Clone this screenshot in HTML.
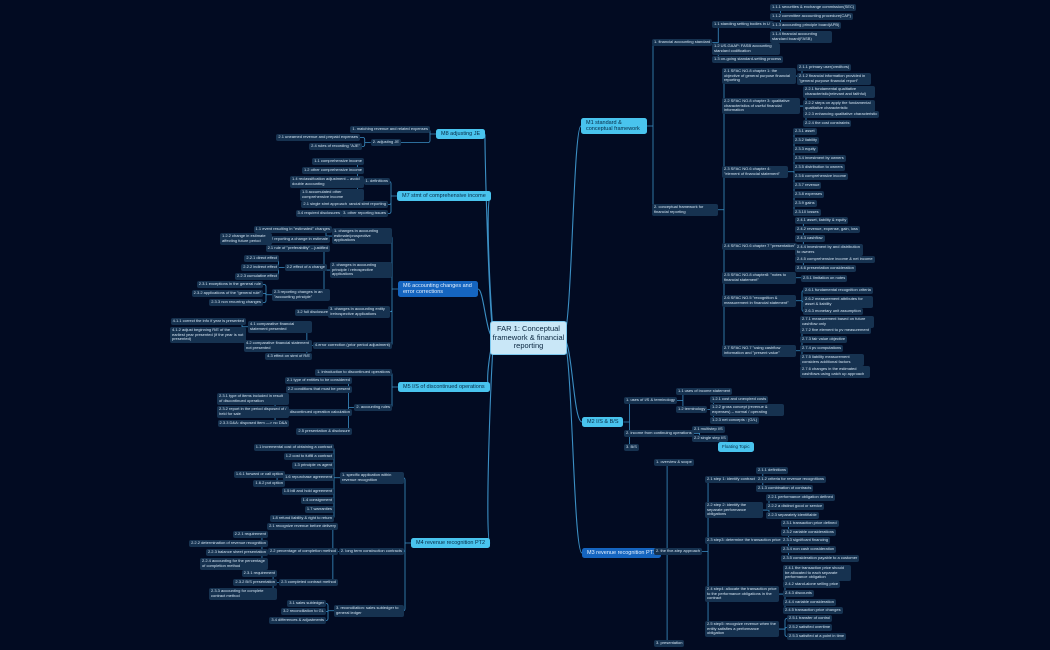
<!DOCTYPE html>
<html><head><meta charset="utf-8"><style>
html,body{margin:0;padding:0;background:#020b22;width:1050px;height:650px;overflow:hidden}
body{position:relative;font-family:"Liberation Sans",sans-serif}
svg{position:absolute;left:0;top:0}
.n{position:absolute;background:#163250;color:#d4e4f2;font-size:4px;line-height:4.6px;padding:1.2px 2px;border-radius:2px;white-space:nowrap}
.w{white-space:normal}
.m{font-size:5.5px;line-height:6px;padding:2px 5px;border-radius:2.5px;background:#49c4ee;color:#062a44}
.b{background:#1565c0;color:#e6f2ff}
.c{position:absolute;left:490px;top:321px;width:77px;height:34px;background:#c9e7f7;border:1px solid #7cc8ee;border-radius:3px;color:#0b2740;font-size:7.5px;line-height:8.5px;text-align:center;display:flex;align-items:center;justify-content:center;box-sizing:border-box}
</style></head><body>
<svg id="s" width="1050" height="650"></svg>
<div class="c" id="C">FAR 1: Conceptual framework &amp; financial reporting</div>

<!-- M1 -->
<div class="n m w" id="M1" p="C" style="left:581px;top:118px;width:56px">M1 standard &amp; conceptual framework</div>
<div class="n" id="R1" p="M1" style="left:652px;top:39px">1. financial accounting standard</div>
<div class="n" id="R11" p="R1" style="left:712px;top:21px">1.1 standing setting bodies in US</div>
<div class="n" p="R11" style="left:770px;top:4px">1.1.1 securities &amp; exchange commission(SEC)</div>
<div class="n" p="R11" style="left:770px;top:13px">1.1.2 committee accounting procedure(CAP)</div>
<div class="n" p="R11" style="left:770px;top:22px">1.1.3 accounting principle board(APB)</div>
<div class="n w" p="R11" style="left:770px;top:31px;width:58px">1.1.4 financial accounting standard board(FASB)</div>
<div class="n w" p="R1" style="left:712px;top:43px;width:64px">1.2 US-GAAP: FASB accounting standard codification</div>
<div class="n" p="R1" style="left:712px;top:56px">1.3 on-going standard-setting process</div>
<div class="n w" id="R2" p="M1" style="left:652px;top:204px;width:62px">2. conceptual framework for financial reporting</div>
<div class="n w" id="R21" p="R2" style="left:722px;top:68px;width:70px">2.1 SFAC NO.8 chapter 1: the objective of general purpose financial reporting</div>
<div class="n" p="R21" style="left:797px;top:64px">2.1.1 primary user(creditors)</div>
<div class="n w" p="R21" style="left:797px;top:73px;width:70px">2.1.2 financial information provided in "general purpose financial report"</div>
<div class="n w" id="R22" p="R2" style="left:722px;top:98px;width:74px">2.2 SFAC NO.8 chapter 3: qualitative characteristics of useful financial information</div>
<div class="n w" p="R22" style="left:803px;top:86px;width:68px">2.2.1 fundamental qualitative characteristic(relevant and faithful)</div>
<div class="n w" p="R22" style="left:803px;top:100px;width:68px">2.2.2 steps on apply the fundamental qualitative characteristic</div>
<div class="n" p="R22" style="left:803px;top:111px">2.2.3 enhancing qualitative characteristic</div>
<div class="n" p="R22" style="left:803px;top:120px">2.2.4 the cost constraints</div>
<div class="n w" id="R23" p="R2" style="left:722px;top:166px;width:62px">2.3 SFAC NO.6 chapter 4: "element of financial statement"</div>
<div class="n" p="R23" style="left:793px;top:128px">2.3.1 asset</div>
<div class="n" p="R23" style="left:793px;top:137px">2.3.2 liability</div>
<div class="n" p="R23" style="left:793px;top:146px">2.3.3 equity</div>
<div class="n" p="R23" style="left:793px;top:155px">2.3.4 investment by owners</div>
<div class="n" p="R23" style="left:793px;top:164px">2.3.5 distribution to owners</div>
<div class="n" p="R23" style="left:793px;top:173px">2.3.6 comprehensive income</div>
<div class="n" p="R23" style="left:793px;top:182px">2.3.7 revenue</div>
<div class="n" p="R23" style="left:793px;top:191px">2.3.8 expenses</div>
<div class="n" p="R23" style="left:793px;top:200px">2.3.9 gains</div>
<div class="n" p="R23" style="left:793px;top:209px">2.3.10 losses</div>
<div class="n" id="R24" p="R2" style="left:722px;top:243px">2.4 SFAC NO.6 chapter 7 "presentation"</div>
<div class="n" p="R24" style="left:795px;top:217px">2.4.1 asset, liability &amp; equity</div>
<div class="n" p="R24" style="left:795px;top:226px">2.4.2 revenue, expense, gain, loss</div>
<div class="n" p="R24" style="left:795px;top:235px">2.4.3 cashflow</div>
<div class="n w" p="R24" style="left:795px;top:244px;width:64px">2.4.4 investment by and distribution to owners</div>
<div class="n" p="R24" style="left:795px;top:256px">2.4.5 comprehensive income &amp; net income</div>
<div class="n" p="R24" style="left:795px;top:265px">2.4.6 presentation consideration</div>
<div class="n w" id="R25" p="R2" style="left:722px;top:272px;width:70px">2.5 SFAC NO.8 chapter8: "notes to financial statement"</div>
<div class="n" p="R25" style="left:801px;top:275px">2.5.1 limitation on notes</div>
<div class="n w" id="R26" p="R2" style="left:722px;top:295px;width:70px">2.6 SFAC NO.5 "recognition &amp; measurement in financial statement"</div>
<div class="n" p="R26" style="left:803px;top:287px">2.6.1 fundamental recognition criteria</div>
<div class="n w" p="R26" style="left:803px;top:296px;width:66px">2.6.2 measurement attributes for asset &amp; liability</div>
<div class="n" p="R26" style="left:803px;top:308px">2.6.3 monetary unit assumption</div>
<div class="n w" id="R27" p="R2" style="left:722px;top:345px;width:70px">2.7 SFAC NO.7 "using cashflow information and "present value"</div>
<div class="n w" p="R27" style="left:800px;top:316px;width:70px">2.7.1 measurement based on future cashflow only</div>
<div class="n" p="R27" style="left:800px;top:327px">2.7.2 five element to pv measurement</div>
<div class="n" p="R27" style="left:800px;top:336px">2.7.3 fair value objective</div>
<div class="n" p="R27" style="left:800px;top:345px">2.7.4 pv computations</div>
<div class="n w" p="R27" style="left:800px;top:354px;width:60px">2.7.5 liability measurement considers additional factors</div>
<div class="n w" p="R27" style="left:800px;top:366px;width:66px">2.7.6 changes in the estimated cashflows using catch up approach</div>

<!-- M2 -->
<div class="n m" id="M2" p="C" style="left:582px;top:417px">M2 I/S &amp; B/S</div>
<div class="n" id="S1" p="M2" style="left:624px;top:397px">1. uses of I/S &amp; terminology</div>
<div class="n" p="S1" style="left:676px;top:388px">1.1 uses of income statement</div>
<div class="n" id="S12" p="S1" style="left:676px;top:406px">1.2 terminology</div>
<div class="n" p="S12" style="left:710px;top:396px">1.2.1 cost and unexpired costs</div>
<div class="n w" p="S12" style="left:710px;top:404px;width:70px">1.2.2 gross concept (revenue &amp; expenses) – normal / operating</div>
<div class="n" p="S12" style="left:710px;top:417px">1.2.3 net concepts : (G/L)</div>
<div class="n" id="S2" p="M2" style="left:624px;top:430px">2. income from continuing operations</div>
<div class="n" p="S2" style="left:692px;top:426px">2.1 multistep I/S</div>
<div class="n" p="S2" style="left:692px;top:435px">2.2 single step I/S</div>
<div class="n" p="M2" style="left:624px;top:444px">3. B/S</div>
<div class="n m" style="left:718px;top:442px;font-size:4.5px;padding:2px 4px">Floating Topic</div>

<!-- M3 -->
<div class="n m b" id="M3" p="C" style="left:582px;top:548px">M3 revenue recognition PT1</div>
<div class="n" p="M3" style="left:654px;top:459px">1. overview &amp; scope</div>
<div class="n" id="T2" p="M3" style="left:654px;top:548px">2. the five-step approach</div>
<div class="n" id="T21" p="T2" style="left:705px;top:476px">2.1 step 1: identify contract</div>
<div class="n" p="T21" style="left:756px;top:467px">2.1.1 definitions</div>
<div class="n" p="T21" style="left:756px;top:476px">2.1.2 criteria for revenue recognitions</div>
<div class="n" p="T21" style="left:756px;top:485px">2.1.3 combination of contracts</div>
<div class="n w" id="T22" p="T2" style="left:705px;top:502px;width:54px">2.2 step 2: identify the separate performance obligations</div>
<div class="n" p="T22" style="left:766px;top:494px">2.2.1 performance obligation defined</div>
<div class="n" p="T22" style="left:766px;top:503px">2.2.2 a distinct good or service</div>
<div class="n" p="T22" style="left:766px;top:512px">2.2.3 separately identifiable</div>
<div class="n" id="T23" p="T2" style="left:705px;top:537px">2.3 step3: determine the transaction price</div>
<div class="n" p="T23" style="left:781px;top:520px">2.3.1 transaction price defined</div>
<div class="n" p="T23" style="left:781px;top:529px">2.3.2 variable considerations</div>
<div class="n" p="T23" style="left:781px;top:537px">2.3.3 significant financing</div>
<div class="n" p="T23" style="left:781px;top:546px">2.3.4 non cash consideration</div>
<div class="n" p="T23" style="left:781px;top:555px">2.3.5 consideration payable to a customer</div>
<div class="n w" id="T24" p="T2" style="left:705px;top:586px;width:70px">2.4 step4: allocate the transaction price to the performance obligations in the contract</div>
<div class="n w" p="T24" style="left:783px;top:565px;width:64px">2.4.1 the transaction price should be allocated to each separate performance obligation</div>
<div class="n" p="T24" style="left:783px;top:581px">2.4.2 stand-alone selling price</div>
<div class="n" p="T24" style="left:783px;top:590px">2.4.3 discounts</div>
<div class="n" p="T24" style="left:783px;top:599px">2.4.4 variable consideration</div>
<div class="n" p="T24" style="left:783px;top:607px">2.4.5 transaction price changes</div>
<div class="n w" id="T25" p="T2" style="left:705px;top:621px;width:70px">2.5 step5: recognize revenue when the entity satisfies a performance obligation</div>
<div class="n" p="T25" style="left:787px;top:615px">2.5.1 transfer of control</div>
<div class="n" p="T25" style="left:787px;top:624px">2.5.2 satisfied overtime</div>
<div class="n" p="T25" style="left:787px;top:633px">2.5.3 satisfied at a point in time</div>
<div class="n" p="M3" style="left:654px;top:640px">3. presentation</div>

<!-- M8 -->
<div class="n m" id="M8" p="C" style="left:436px;top:129px">M8 adjusting JE</div>
<div class="n" p="M8" style="right:620px;top:126px">1. matching revenue and related expenses</div>
<div class="n" id="A2" p="M8" style="right:649px;top:139px">2. adjusting JE</div>
<div class="n" p="A2" style="right:690px;top:134px">2.1 unearned revenue and prepaid expenses</div>
<div class="n" p="A2" style="right:688px;top:143px">2.4 rules of recording "AJE"</div>

<!-- M7 -->
<div class="n m" id="M7" p="C" style="left:397px;top:191px">M7 stmt of comprehensive income</div>
<div class="n" id="B1" p="M7" style="right:660px;top:178px">1. definitions</div>
<div class="n" p="B1" style="right:686px;top:158px">1.1 comprehensive income</div>
<div class="n" p="B1" style="right:686px;top:167px">1.2 other comprehensive income</div>
<div class="n w" p="B1" style="right:686px;top:176px;width:70px">1.4 reclassification adjustment – avoid double accounting</div>
<div class="n w" p="B1" style="right:686px;top:189px;width:60px">1.5 accumulated other comprehensive income</div>
<div class="n" id="B2" p="M7" style="right:662px;top:201px">2. financial stmt reporting</div>
<div class="n" p="B2" style="right:701px;top:201px">2.1 single stmt approach</div>
<div class="n" id="B3" p="M7" style="right:662px;top:210px">3. other reporting issues</div>
<div class="n" p="B3" style="right:708px;top:210px">3.4 required disclosures</div>

<!-- M6 -->
<div class="n m b w" id="M6" p="C" style="left:398px;top:281px;width:70px">M6 accounting changes and error corrections</div>
<div class="n w" id="D1" p="M6" style="right:658px;top:228px;width:56px">1. changes in accounting estimate/prospective applications</div>
<div class="n" p="D1" style="right:718px;top:226px">1.1 event resulting in "estimated" changes</div>
<div class="n" id="D12" p="D1" style="right:720px;top:236px">1.2 reporting a change in estimate</div>
<div class="n w" p="D12" style="right:778px;top:233px;width:48px">1.2.2 change in estimate affecting future period</div>
<div class="n w" id="D2" p="M6" style="right:658px;top:262px;width:58px">2. changes in accounting principle / retrospective applications</div>
<div class="n" p="D2" style="right:720px;top:245px">2.1 rule of "preferability" – justified</div>
<div class="n" id="D22" p="D2" style="right:723px;top:264px">2.2 effect of a change</div>
<div class="n" p="D22" style="right:771px;top:255px">2.2.1 direct effect</div>
<div class="n" p="D22" style="right:771px;top:264px">2.2.2 indirect effect</div>
<div class="n" p="D22" style="right:771px;top:273px">2.2.3 cumulative effect</div>
<div class="n w" id="D23" p="D2" style="right:720px;top:289px;width:54px">2.3 reporting changes in an "accounting principle"</div>
<div class="n" p="D23" style="right:787px;top:281px">2.3.1 exceptions in the general rule</div>
<div class="n" p="D23" style="right:787px;top:290px">2.3.2 applications of the "general rule"</div>
<div class="n" p="D23" style="right:787px;top:299px">2.3.3 non recurring changes</div>
<div class="n w" id="D3" p="M6" style="right:660px;top:306px;width:58px">3. changes in accounting entity /retrospective applications</div>
<div class="n" p="D3" style="right:720px;top:309px">3.2 full disclosure</div>
<div class="n" id="D4" p="M6" style="right:658px;top:342px">4.error correction (prior period adjustment)</div>
<div class="n w" id="D41" p="D4" style="right:738px;top:321px;width:60px">4.1 comparative financial statement presented</div>
<div class="n" p="D41" style="right:804px;top:318px">4.1.1 correct the info if year is presented</div>
<div class="n w" p="D41" style="right:804px;top:327px;width:72px">4.1.2 adjust beginning R/E of the earliest year presented (if the year is not presented)</div>
<div class="n w" p="D4" style="right:738px;top:340px;width:64px">4.2 comparative financial statement not presented</div>
<div class="n" p="D4" style="right:738px;top:353px">4.3 effect on stmt of R/E</div>

<!-- M5 -->
<div class="n m" id="M5" p="C" style="left:398px;top:382px">M5 I/S of discontinued operations</div>
<div class="n" p="M5" style="right:658px;top:369px">1. introduction to discontinued operations</div>
<div class="n" id="E2" p="M5" style="right:658px;top:404px">2. accounting rules</div>
<div class="n" p="E2" style="right:698px;top:377px">2.1 type of entities to be considered</div>
<div class="n" p="E2" style="right:698px;top:386px">2.2 conditions that must be present</div>
<div class="n" id="E23" p="E2" style="right:698px;top:409px">2.3 discontinued operation calculation</div>
<div class="n w" p="E23" style="right:761px;top:393px;width:68px">2.3.1 type of items included in result of discontinued operation</div>
<div class="n w" p="E23" style="right:761px;top:406px;width:68px">2.3.2 report in the period disposed of / held for sale</div>
<div class="n" p="E23" style="right:761px;top:420px">2.3.3 D&amp;A: disposed item —&gt; no D&amp;A</div>
<div class="n" p="E2" style="right:698px;top:428px">2.5 presentation &amp; disclosure</div>

<!-- M4 -->
<div class="n m" id="M4" p="C" style="left:411px;top:538px">M4 revenue recognition PT2</div>
<div class="n w" id="F1" p="M4" style="right:646px;top:472px;width:60px">1. specific application within revenue recognition</div>
<div class="n" p="F1" style="right:716px;top:444px">1.1 incremental cost of obtaining a contract</div>
<div class="n" p="F1" style="right:716px;top:453px">1.2 cost to fulfill a contract</div>
<div class="n" p="F1" style="right:716px;top:462px">1.3 principle vs agent</div>
<div class="n" id="F16" p="F1" style="right:716px;top:474px">1.6 repurchase agreement</div>
<div class="n" p="F16" style="right:765px;top:471px">1.6.1 forward or call option</div>
<div class="n" p="F16" style="right:765px;top:480px">1.6.2 put option</div>
<div class="n" p="F1" style="right:716px;top:488px">1.5 bill and hold agreement</div>
<div class="n" p="F1" style="right:716px;top:497px">1.4 consignment</div>
<div class="n" p="F1" style="right:716px;top:506px">1.7 warranties</div>
<div class="n" p="F1" style="right:716px;top:515px">1.8 refund liability &amp; right to return</div>
<div class="n" id="F2" p="M4" style="right:646px;top:548px">2. long term construction contracts</div>
<div class="n" p="F2" style="right:712px;top:523px">2.1 recognize revenue before delivery</div>
<div class="n" id="F22" p="F2" style="right:712px;top:548px">2.2 percentage of completion method</div>
<div class="n" p="F22" style="right:782px;top:531px">2.2.1 requirement</div>
<div class="n" p="F22" style="right:782px;top:540px">2.2.2 determination of revenue recognition</div>
<div class="n" p="F22" style="right:782px;top:549px">2.2.3 balance sheet presentation</div>
<div class="n w" p="F22" style="right:782px;top:558px;width:64px">2.2.4 accounting for the percentage of completion method</div>
<div class="n" id="F23" p="F2" style="right:712px;top:579px">2.3 completed contract method</div>
<div class="n" p="F23" style="right:773px;top:570px">2.3.1 requirement</div>
<div class="n" p="F23" style="right:773px;top:579px">2.3.2 B/S presentation</div>
<div class="n w" p="F23" style="right:773px;top:588px;width:64px">2.3.3 accounting for complete contract method</div>
<div class="n w" id="F3" p="M4" style="right:646px;top:605px;width:66px">3. reconciliation: sales subledger to general ledger</div>
<div class="n" p="F3" style="right:724px;top:600px">3.1 sales subledger</div>
<div class="n" p="F3" style="right:724px;top:608px">3.2 reconciliation to GL</div>
<div class="n" p="F3" style="right:724px;top:617px">3.4 differences &amp; adjustments</div>

<script>
(function(){
var s=document.getElementById('s'),d='',dm='';
var ns=document.querySelectorAll('[p]');
for(var i=0;i<ns.length;i++){
 var c=ns[i],p=document.getElementById(c.getAttribute('p'));
 var a=p.getBoundingClientRect(),b=c.getBoundingClientRect();
 var y1=a.top+a.height/2,y2=b.top+b.height/2;
 var right=b.left>a.left+a.width/2;
 if(p.id==='C'){
  var x1=right?a.right-4:a.left+4,x2=right?b.left:b.right;
  var mx=(x1+x2)/2;
  dm+='M'+x1+' '+y1+'C'+mx+' '+y1+' '+(right?x1+10:x1-10)+' '+y2+' '+x2+' '+y2;
  continue;
 }
 var x1=right?a.right:a.left,x2=right?b.left:b.right,sg=right?1:-1;
 var xm=x1+sg*6,r=Math.min(2,Math.abs(y2-y1));
 var vy=y2>y1?1:-1;
 if(Math.abs(y2-y1)<0.5){d+='M'+x1+' '+y1+'H'+x2;}
 else d+='M'+x1+' '+y1+'H'+xm+'V'+(y2-vy*r)+'Q'+xm+' '+y2+' '+(xm+sg*r)+' '+y2+'H'+x2;
}
s.innerHTML='<path d="'+dm+'" fill="none" stroke="#3b8fc4" stroke-width="1.1"/><path d="'+d+'" fill="none" stroke="#3b8fc4" stroke-width="0.8"/>';
})();
</script>
</body></html>
